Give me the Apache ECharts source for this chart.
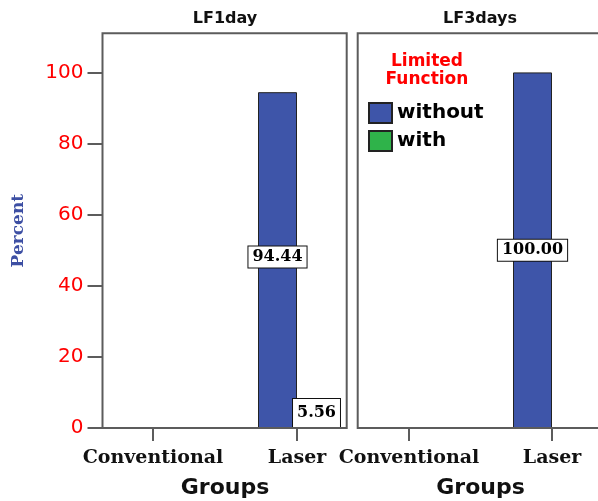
<!DOCTYPE html>
<html>
<head>
<meta charset="utf-8">
<script src="https://cdn.jsdelivr.net/npm/echarts@6/dist/echarts.min.js"></script>
<style>
html,body{margin:0;padding:0;background:#fff;}
#c{width:598px;height:501px;}
</style>
</head>
<body>
<div id="c"></div>
<script>
const categories = ['Conventional', 'Laser'];
const panelTitles = ['LF1day', 'LF3days'];
const seriesNames = ['without', 'with'];
const lf1dayWithout = [0, 94.44];
const lf1dayWith = [0, 5.56];
const lf3daysWithout = [0, 100];
const lf3daysWith = [0, 0];
const yTicks = [0, 20, 40, 60, 80, 100];
const legendTitle = 'Limited\nFunction';
const xTitle = 'Groups';
const yTitle = 'Percent';

const BLUE = '#3e55a9';
const GREEN = '#2fb34a';
const FRAME = '#5c5c5c';

const chart = echarts.init(document.getElementById('c'), null, {renderer: 'canvas'});

function mkData(arr) {
  return arr.map(v => ({value: v, label: {show: v > 0}}));
}
const labelBase = {
  position: 'inside',
  formatter: p => p.value.toFixed(2),
  backgroundColor: '#fff',
  borderColor: '#111',
  borderWidth: 1,
  color: '#000',
  fontFamily: 'DejaVu Serif',
  fontWeight: 'bold',
  fontSize: 16
};
function mkSeries(name, arr, axisIdx, color, labelExtra) {
  return {
    type: 'bar',
    name: name,
    xAxisIndex: axisIdx,
    yAxisIndex: axisIdx,
    barWidth: 39,
    barGap: '0%',
    data: mkData(arr),
    itemStyle: {color: color, borderColor: '#222', borderWidth: 1},
    label: Object.assign({}, labelBase, labelExtra),
    emphasis: {disabled: true}
  };
}

const xAxisCommon = {
  type: 'category',
  data: categories,
  axisLine: {show: false},
  axisTick: {show: true, alignWithLabel: true, length: 13, lineStyle: {color: FRAME, width: 2}},
  axisLabel: {interval: 0, margin: 21, color: '#111', fontFamily: 'DejaVu Serif', fontWeight: 'bold', fontSize: 19},
  name: xTitle,
  nameLocation: 'middle',
  nameGap: 49,
  nameTextStyle: {color: '#111', fontFamily: 'DejaVu Sans', fontWeight: 'bold', fontSize: 22}
};

const option = {
  animation: false,
  backgroundColor: '#fff',
  title: [
    {text: panelTitles[0], left: 225, top: 11, textAlign: 'center', padding: 0,
     textStyle: {fontFamily: 'DejaVu Sans', fontWeight: 'bold', fontSize: 16, color: '#111'}},
    {text: panelTitles[1], left: 480, top: 11, textAlign: 'center', padding: 0,
     textStyle: {fontFamily: 'DejaVu Sans', fontWeight: 'bold', fontSize: 16, color: '#111'}},
    {text: legendTitle, left: 427, top: 53, textAlign: 'center', padding: 0,
     textStyle: {fontFamily: 'DejaVu Sans', fontWeight: 'bold', fontSize: 17, color: '#ff0000', lineHeight: 18}}
  ],
  legend: {
    data: seriesNames,
    orient: 'vertical',
    left: 368,
    top: 102,
    padding: 0,
    icon: 'rect',
    itemWidth: 23,
    itemHeight: 20,
    itemGap: 6,
    selectedMode: false,
    textStyle: {fontFamily: 'DejaVu Sans', fontWeight: 'bold', fontSize: 20, color: '#000'}
  },
  graphic: [
    {type: 'rect', z: 100, silent: true, shape: {x: 102.5, y: 33.3, width: 244.2, height: 394.7},
     style: {fill: 'none', stroke: FRAME, lineWidth: 2}},
    {type: 'rect', z: 100, silent: true, shape: {x: 357.7, y: 33.3, width: 260, height: 394.7},
     style: {fill: 'none', stroke: FRAME, lineWidth: 2}}
  ],
  grid: [
    {left: 81, top: 33.3, width: 288, height: 394.7, outerBoundsMode: 'none', containLabel: false},
    {left: 337.5, top: 33.3, width: 286, height: 394.7, outerBoundsMode: 'none', containLabel: false}
  ],
  xAxis: [
    Object.assign({gridIndex: 0}, xAxisCommon),
    Object.assign({gridIndex: 1}, xAxisCommon)
  ],
  yAxis: [
    {
      type: 'value', gridIndex: 0, min: 0, max: 111, offset: -21.5,
      axisLine: {show: false},
      splitLine: {show: false},
      axisTick: {show: true, length: 15, customValues: yTicks, lineStyle: {color: FRAME, width: 2}},
      axisLabel: {customValues: yTicks, margin: 19, color: '#ff0000', fontFamily: 'DejaVu Sans', fontSize: 20},
      name: yTitle,
      nameLocation: 'middle',
      nameRotate: 90,
      nameGap: 75,
      nameTextStyle: {color: '#3d4fa3', fontFamily: 'DejaVu Serif', fontWeight: 'bold', fontSize: 17}
    },
    {
      type: 'value', gridIndex: 1, min: 0, max: 111, show: false,
      splitLine: {show: false}
    }
  ],
  series: [
    mkSeries(seriesNames[0], lf1dayWithout, 0, BLUE, {padding: [3, 4, 2, 4], offset: [0, -3]}),
    mkSeries(seriesNames[1], lf1dayWith, 0, GREEN, {padding: [6, 4], offset: [0, -5]}),
    mkSeries(seriesNames[0], lf3daysWithout, 1, BLUE, {padding: [3, 4, 2, 4]}),
    mkSeries(seriesNames[1], lf3daysWith, 1, GREEN, {padding: [3, 4, 2, 4]})
  ]
};
chart.setOption(option);
</script>
</body>
</html>
